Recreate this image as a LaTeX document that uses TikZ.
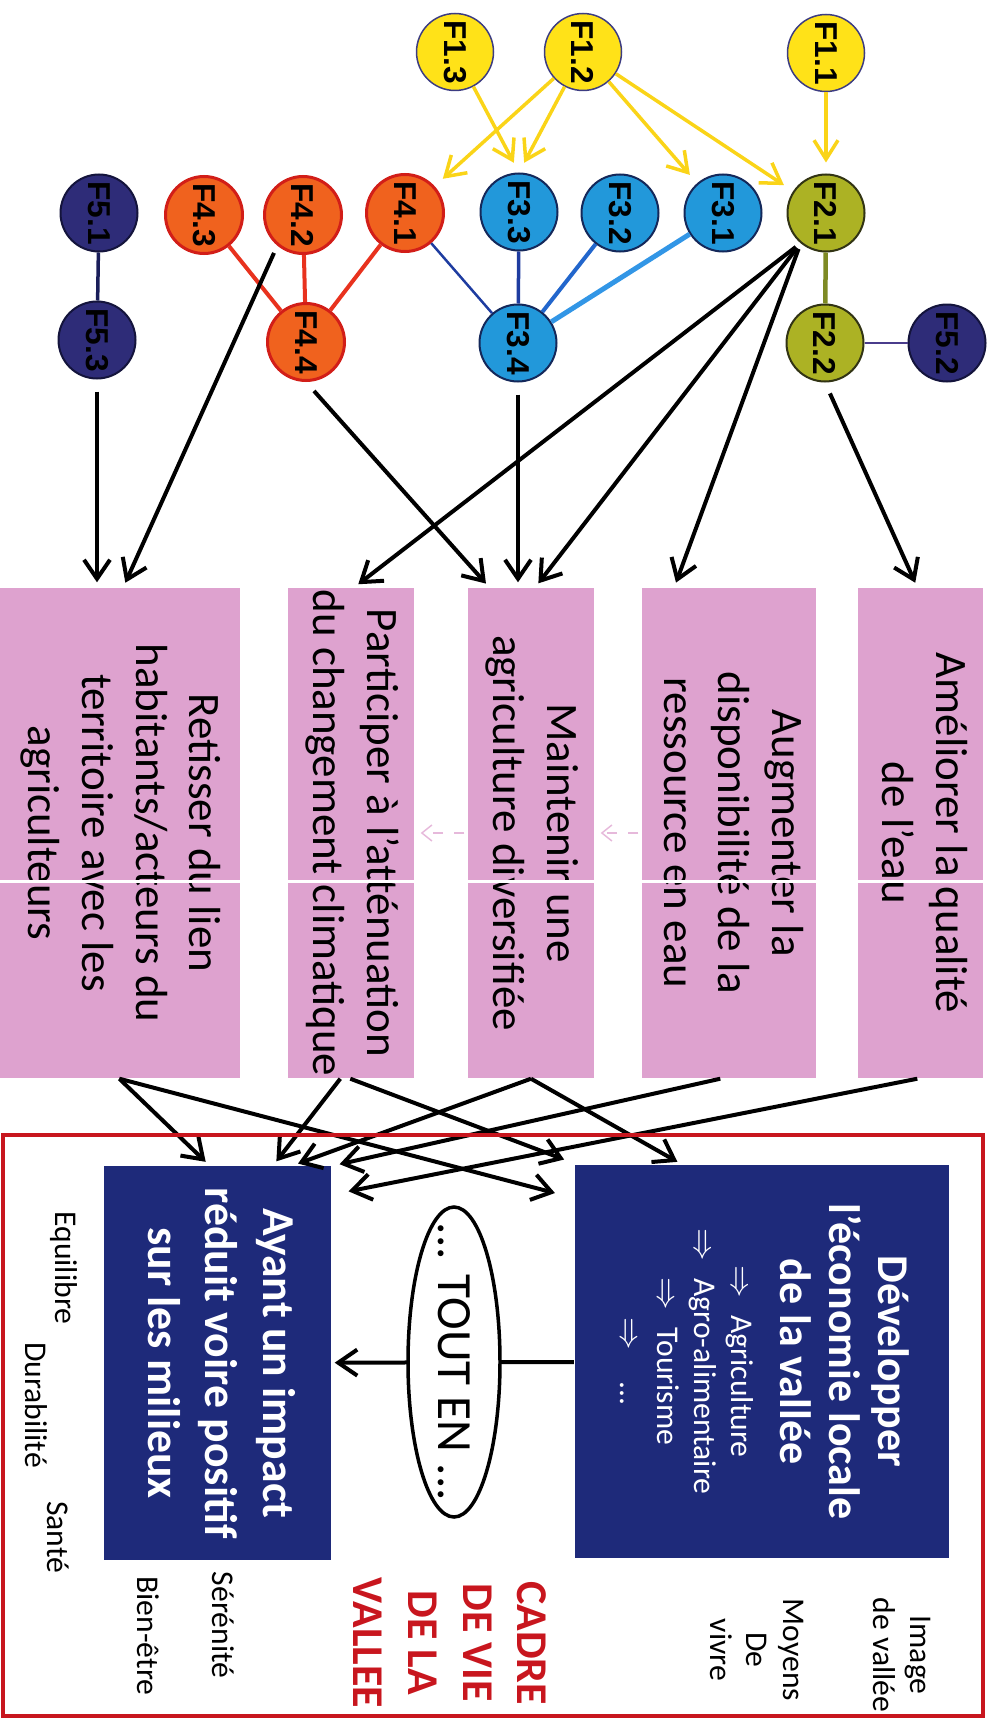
\documentclass[tikz,border=0pt]{standalone}
\usepackage{fontspec}
\setmainfont{Carlito}
\newfontfamily\circfont{Liberation Sans}
\usetikzlibrary{positioning, arrows.meta, calc, shapes.geometric}

\definecolor{pinkfill}{RGB}{222,162,207}
\definecolor{navyfill}{RGB}{30,42,122}
\definecolor{fyellow}{RGB}{255,226,24}
\definecolor{folive}{RGB}{172,178,36}
\definecolor{fblue}{RGB}{34,152,218}
\definecolor{forange}{RGB}{240,98,30}
\definecolor{fnavy}{RGB}{46,44,120}
\definecolor{ayellow}{RGB}{250,212,24}
\definecolor{redframe}{RGB}{200,22,30}
\definecolor{yedge}{RGB}{60,60,130}
\definecolor{oedge}{RGB}{50,52,20}
\definecolor{bedge}{RGB}{20,40,90}
\definecolor{redge}{RGB}{210,30,24}
\definecolor{nedge}{RGB}{20,20,60}
\definecolor{ldark}{RGB}{30,60,160}
\definecolor{lmid}{RGB}{34,102,204}
\definecolor{llight}{RGB}{50,150,230}
\definecolor{lred}{RGB}{232,50,30}
\definecolor{lnavy}{RGB}{26,30,90}
\definecolor{lolive}{RGB}{126,138,36}
\definecolor{lpurple}{RGB}{74,60,140}

\newcommand{\vlines}[1]{\rotatebox{-90}{\begin{tabular}{@{}c@{}}#1\end{tabular}}}

\tikzset{
  fcirc/.style={circle, draw, line width=0.2mm, minimum size=7.7mm, inner sep=0pt, font=\circfont\bfseries\fontsize{9}{9}\selectfont},
  fone/.style={fcirc, fill=fyellow, draw=yedge, line width=0.15mm},
  ftwo/.style={fcirc, fill=folive, draw=oedge},
  fthree/.style={fcirc, fill=fblue, draw=bedge},
  ffour/.style={fcirc, fill=forange, draw=redge, line width=0.3mm},
  ffive/.style={fcirc, fill=fnavy, draw=nedge},
  pbox/.style={fill=pinkfill, minimum height=49mm, inner sep=0pt, font=\fontsize{12.8}{15.3}\selectfont},
  nbox/.style={fill=navyfill, text=white, inner sep=0pt, font=\bfseries\fontsize{13}{16.4}\selectfont},
  blk/.style={line width=0.4mm, -{Straight Barb[length=1.9mm, width=2.6mm]}, shorten >=0.5mm},
  yarr/.style={ayellow, line width=0.35mm, -{Straight Barb[length=1.9mm, width=2.4mm]}, shorten >=1.1mm},
  faint/.style={draw=pinkfill!75!white, dashed, line width=0.15mm, -{Straight Barb[length=1mm, width=1.6mm]}, shorten <=0.3mm, shorten >=0.6mm},
  word/.style={rotate=-90, font=\fontsize{9}{10.5}\selectfont, align=center, inner sep=0pt}
}

\begin{document}
\begin{tikzpicture}[x=0.1mm, y=-0.1mm]
\useasboundingbox (0,0) rectangle (992,1719);

\node[fone] (f13) at (455,52) {\rotatebox{-90}{F1.3}};
\node[fone] (f12) at (583,52) {\rotatebox{-90}{F1.2}};
\node[fone] (f11) at (826,53) {\rotatebox{-90}{F1.1}};

\node[ffive] (f51) at (99,213) {\rotatebox{-90}{F5.1}};
\node[ffour] (f43) at (204,215) {\rotatebox{-90}{F4.3}};
\node[ffour] (f42) at (303,215) {\rotatebox{-90}{F4.2}};
\node[ffour] (f41) at (405,213) {\rotatebox{-90}{F4.1}};
\node[fthree] (f33) at (519,212) {\rotatebox{-90}{F3.3}};
\node[fthree] (f32) at (620,213) {\rotatebox{-90}{F3.2}};
\node[fthree] (f31) at (723,213) {\rotatebox{-90}{F3.1}};
\node[ftwo] (f21) at (826,213) {\rotatebox{-90}{F2.1}};

\node[ffive] (f53) at (97,340) {\rotatebox{-90}{F5.3}};
\node[ffour] (f44) at (306,342) {\rotatebox{-90}{F4.4}};
\node[fthree] (f34) at (518,343) {\rotatebox{-90}{F3.4}};
\node[ftwo] (f22) at (825,343) {\rotatebox{-90}{F2.2}};
\node[ffive] (f52) at (947,343) {\rotatebox{-90}{F5.2}};

\draw[yarr] (f13) -- (f33.north);
\draw[yarr] (f12) -- (f41);
\draw[yarr] (f12) -- (f33.north);
\draw[yarr] (f12) -- (f31);
\draw[yarr] (f12) -- (f21);
\draw[yarr] (f11) -- (f21);

\draw[ldark, line width=0.35mm] (f33) -- (f34);
\draw[lmid, line width=0.4mm] (f32) -- (f34);
\draw[llight, line width=0.5mm] (f31) -- (f34);
\draw[ldark, line width=0.25mm] (f41) -- (f34);
\draw[lred, line width=0.4mm] (f43) -- (f44);
\draw[lred, line width=0.4mm] (f42) -- (f44);
\draw[lred, line width=0.4mm] (f41) -- (f44);
\draw[lnavy, line width=0.35mm] (f51) -- (f53);
\draw[lolive, line width=0.45mm] (f21) -- (f22);
\draw[lpurple, line width=0.25mm] (f22) -- (f52);

\node[pbox, minimum width=24mm] (b1) at (120,833) {\vlines{Retisser du lien\\habitants/acteurs du\\territoire avec les\\agriculteurs}};
\node[pbox, minimum width=12.6mm] (b2) at (351,833) {\vlines{Participer à l’atténuation\\du changement climatique}};
\node[pbox, minimum width=12.6mm] (b3) at (531,833) {\vlines{Maintenir une\\agriculture diversifiée}};
\node[pbox, minimum width=17.4mm] (b4) at (729,833) {\vlines{Augmenter la\\disponibilité de la\\ressource en eau}};
\node[pbox, minimum width=12.5mm] (b5) at (920.5,833) {\vlines{Améliorer la qualité\\de l’eau}};

\foreach \b in {b1,b2,b3,b4,b5}
  \draw[white, line width=0.25mm] ($(\b.north west)+(0,294)$) -- ($(\b.north east)+(0,294)$);
\draw[faint] (b4.west) -- (b3.east);
\draw[faint] (b3.west) -- (b2.east);

\node[nbox, minimum width=22.7mm, minimum height=39.4mm] (a1) at (217.5,1363) {\vlines{Ayant un impact\\réduit voire positif\\sur les milieux}};
\node[nbox, minimum width=37.4mm, minimum height=39.3mm, font=\bfseries\fontsize{12.5}{14}\selectfont] (d1) at (761.5,1361.5)
  {\rotatebox{-90}{\begin{tabular}{@{}c@{}}Développer\\l’économie locale\\de la vallée\\
   \mdseries\fontsize{9}{10.5}\selectfont\begin{tabular}[t]{@{}c@{}}$\Rightarrow$\hspace{5pt}Agriculture\\$\Rightarrow$\hspace{5pt}Agro-alimentaire\\$\Rightarrow$\hspace{5pt}Tourisme\\$\Rightarrow$\hspace{9pt}...\end{tabular}\end{tabular}}};

\draw[blk, shorten <=1.2mm] (f53.south) -- (f53 |- b1.north);
\draw[blk, shorten <=0.8mm] (f42.-130) -- ($(b1.north west)+(124,0)$);
\draw[blk, shorten <=1.2mm] (f44.south) -- ($(b3.north west)+(22,0)$);
\draw[blk, shorten <=1.2mm] (f34.south) -- (f34 |- b3.north);
\draw[blk, shorten <=0.6mm] (f21.-130) -- ($(b3.north west)+(68,0)$);
\draw[blk, shorten <=0.6mm] (f21.-130) -- ($(b2.north west)+(67,0)$);
\draw[blk, shorten <=0.6mm] (f21.-130) -- ($(b4.north west)+(33,0)$);
\draw[blk, shorten <=1.2mm] (f22.south) -- ($(b5.north west)+(60,0)$);

\draw[blk] ($(b1.south west)+(120,0)$) -- ($(a1.north west)+(106,0)$);
\draw[blk] ($(b1.south west)+(120,0)$) -- ($(d1.north west)+(-14,30)$);
\draw[blk] ($(b2.south west)+(53,0)$) -- ($(a1.north west)+(170,0)$);
\draw[blk] ($(b2.south west)+(63,0)$) -- ($(d1.north west)+(-5,-3)$);
\draw[blk] (b3.south) -- ($(a1.north west)+(190,0)$);
\draw[blk] (b3.south) -- ($(d1.north west)+(108,0)$);
\draw[blk] ($(b4.south west)+(79,0)$) -- ($(a1.north east)+(3,0)$);
\draw[blk] ($(b5.south west)+(60,0)$) -- ($(a1.north east)+(12,27)$);

\draw[blk, shorten >=0.3mm] (d1) -- (a1);
\node[ellipse, draw, fill=white, line width=0.35mm, minimum width=9.2mm, minimum height=31mm, inner sep=0pt, font=\fontsize{14}{16}\selectfont] (te) at (454,1362)
  {\rotatebox{-90}{\makebox[0pt]{... TOUT EN ...}}};

\draw[redframe, line width=0.35mm] (3,1135) rectangle (983,1716);

\node[word] (equ) at (64,1268) {Equilibre};
\node[word] (dur) at (36,1405) {Durabilité};
\node[word] (san) at (58,1537) {Santé};
\node[word] (ser) at (223,1625) {Sérénité};
\node[word] (bie) at (148,1636) {Bien-être};
\node[word, font=\bfseries\fontsize{12.5}{15.6}\selectfont, text=redframe] (cad) at (450,1643) {CADRE\\DE VIE\\DE LA\\VALLEE};
\node[word] (img) at (902,1655) {Image\\de vallée};
\node[word] (moy) at (757,1650) {Moyens\\De\\vivre};
\end{tikzpicture}
\end{document}
